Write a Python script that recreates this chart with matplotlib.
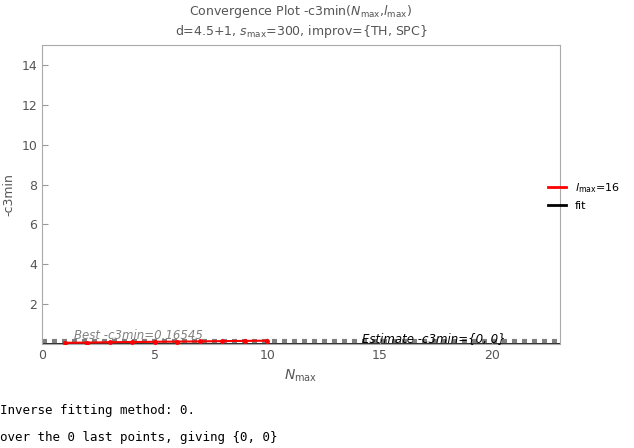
import matplotlib
matplotlib.use("Agg")
import matplotlib.pyplot as plt
from matplotlib.lines import Line2D

nmax = [1, 2, 3, 4, 5, 6, 7, 8, 9, 10]
c3 = [0.06, 0.07, 0.09, 0.10, 0.11, 0.12, 0.13, 0.145, 0.155, 0.16545]
best = 0.16545
estimate = 0.0
xticks = [0, 5, 10, 15, 20]
yticks = [2, 4, 6, 8, 10, 12, 14]

fig = plt.figure(figsize=(6.34, 4.48), dpi=100)
ax = fig.add_axes([42/634, 1-344/448, 518/634, 299/448])
gray = "#808080"
ax.plot(nmax, c3, color="red", lw=1.5, marker="o", ms=2.5, zorder=3)
ax.axhline(best, color=gray, lw=3, ls=(0, (1.2, 1.2)), zorder=2)
ax.axhline(estimate, color="black", lw=1.2, zorder=1)
ax.set_xlim(0, 23)
ax.set_ylim(0, 15)
ax.set_xticks(xticks)
ax.set_yticks(yticks)
for s in ax.spines.values():
    s.set_color("#aaaaaa")
ax.tick_params(colors="#999999", labelcolor="#555555", labelsize=9, direction="in", length=4)
ax.set_xlabel(r"$N_{\rm max}$", color="#555555", fontsize=10)
ax.set_ylabel("-c3min", color="#555555", fontsize=9)
ax.text(1.4, best + 0.08, "Best -c3min=0.16545", color=gray, style="italic", fontsize=8.5)
ax.text(14.2, estimate + 0.12, "Estimate -c3min={0, 0}", color="black", style="italic", fontsize=8.5)
fig.text(0.5 * (42 + 560) / 634, 1 - 12/448, r"Convergence Plot -c3min($N_{\rm max}$,$l_{\rm max}$)",
         ha="center", va="center", color="#555555", fontsize=9)
fig.text(0.5 * (42 + 560) / 634, 1 - 32/448, r"d=4.5+1, $s_{\rm max}$=300, improv={TH, SPC}",
         ha="center", va="center", color="#555555", fontsize=9)
h = [Line2D([], [], color="red", lw=2), Line2D([], [], color="black", lw=2)]
fig.legend(h, [r"$l_{\rm max}$=16", "fit"], loc="center left", bbox_to_anchor=(538/634, 1-196/448),
           frameon=False, fontsize=8, handlelength=1.6)
fig.text(0, 1 - 410/448, "Inverse fitting method: 0.", family="DejaVu Sans Mono", fontsize=9, va="center")
fig.text(0, 1 - 437/448, "over the 0 last points, giving {0, 0}", family="DejaVu Sans Mono", fontsize=9, va="center")
fig.savefig("out.png", dpi=100)
